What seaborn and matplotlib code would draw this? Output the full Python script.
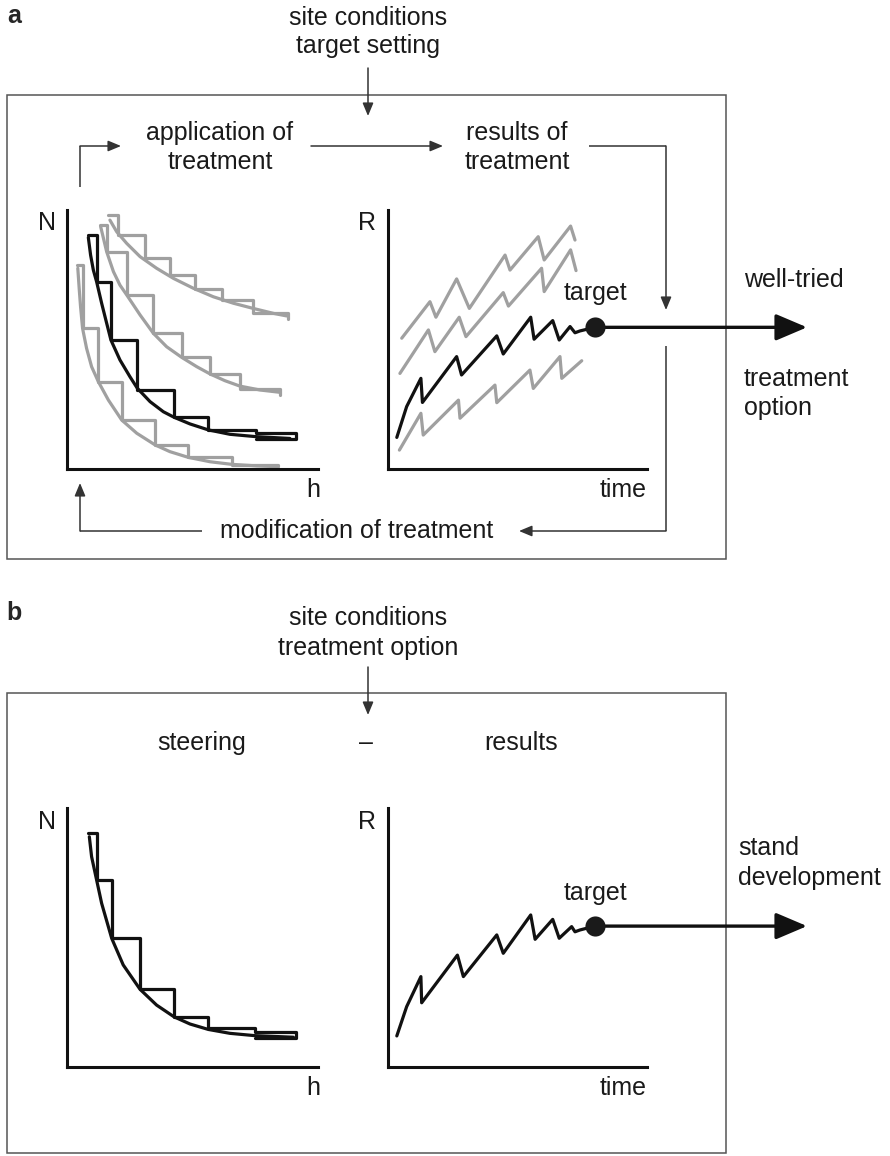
import matplotlib.pyplot as plt
import seaborn as sns
from matplotlib.patches import Rectangle
from matplotlib.transforms import blended_transform_factory

sns.set_theme(style="white")
plt.rcParams["font.family"] = ["Liberation Sans", "DejaVu Sans"]

GREY = "#a0a0a0"
INK = "#111111"
THIN = "#333333"

# ------------------- data (axis units 0..10) -------------------
# panel a, N over h : reverse-J curves with thinning steps
a_black_curve_h = [0.85, 0.94, 1.05, 1.18, 1.38, 1.58, 1.75, 2.11, 2.51, 2.8, 3.31, 3.84, 4.26, 4.9, 5.63, 6.49, 7.52, 8.88]
a_black_curve_n = [8.94, 8.26, 7.68, 7.23, 6.4, 5.63, 4.98, 4.21, 3.56, 3.12, 2.6, 2.21, 2.0, 1.74, 1.51, 1.34, 1.25, 1.18]
a_black_step_h = [0.85, 1.18, 1.75, 2.8, 4.26, 5.63, 7.52, 9.11, 9.11, 7.52]
a_black_step_n = [9.03, 7.23, 4.98, 3.05, 2.02, 1.51, 1.38, 1.38, 1.15, 1.15]

a_grey1_curve_h = [1.71, 1.98, 2.38, 2.91, 3.57, 4.24, 5.03, 5.83, 6.63, 7.42, 8.22, 8.75]
a_grey1_curve_n = [9.61, 9.16, 8.71, 8.2, 7.75, 7.36, 6.98, 6.65, 6.4, 6.2, 6.01, 5.91]
a_grey1_step_h = [1.65, 2.04, 3.11, 4.1, 5.1, 6.16, 7.4, 8.82, 8.82]
a_grey1_step_n = [9.81, 9.03, 8.13, 7.49, 6.94, 6.53, 6.03, 6.03, 5.78]

a_grey2_curve_h = [1.34, 1.58, 1.85, 2.11, 2.38, 2.91, 3.44, 3.97, 4.57, 5.17, 5.7, 6.29, 6.89, 7.69, 8.49]
a_grey2_curve_n = [9.36, 8.39, 7.62, 7.1, 6.72, 5.95, 5.24, 4.72, 4.31, 3.95, 3.67, 3.41, 3.2, 3.05, 2.96]
a_grey2_step_h = [1.31, 1.58, 2.38, 3.44, 4.57, 5.7, 6.89, 8.49, 8.49]
a_grey2_step_n = [9.42, 8.39, 6.72, 5.24, 4.31, 3.67, 3.1, 3.1, 2.86]

a_grey3_curve_h = [0.43, 0.49, 0.54, 0.62, 0.78, 0.98, 1.25, 1.65, 2.18, 2.78, 3.51, 4.1, 4.83, 5.7, 6.56, 7.56, 8.42]
a_grey3_curve_n = [7.75, 6.91, 6.27, 5.43, 4.66, 3.95, 3.37, 2.66, 1.89, 1.38, 0.93, 0.67, 0.45, 0.28, 0.18, 0.12, 0.09]
a_grey3_step_h = [0.39, 0.62, 1.25, 2.18, 3.51, 4.83, 6.56, 8.42]
a_grey3_step_n = [7.88, 5.43, 3.37, 1.89, 0.93, 0.48, 0.15, 0.12]

# panel a, R over time : saw-tooth stand development
a_black_t = [0.34, 0.72, 1.27, 1.33, 2.65, 2.84, 4.2, 4.45, 5.51, 5.64, 6.36, 6.61, 7.03, 7.22, 7.41, 7.99]
a_black_r = [1.22, 2.41, 3.5, 2.57, 4.34, 3.63, 5.14, 4.44, 5.86, 5.01, 5.73, 4.98, 5.5, 5.26, 5.33, 5.47]
a_grey1_t = [0.53, 1.62, 1.85, 2.65, 3.14, 4.52, 4.71, 5.8, 6.03, 7.05, 7.22]
a_grey1_r = [5.05, 6.46, 5.86, 7.34, 6.2, 8.26, 7.68, 8.97, 8.07, 9.38, 8.84]
a_grey2_t = [0.46, 1.56, 1.81, 2.75, 3.01, 4.45, 4.65, 5.93, 6.03, 7.05, 7.26]
a_grey2_r = [3.69, 5.37, 4.53, 5.86, 5.11, 6.81, 6.29, 7.75, 6.85, 8.46, 7.66]
a_grey3_t = [0.44, 1.27, 1.36, 2.72, 2.78, 4.13, 4.2, 5.48, 5.61, 6.64, 6.71, 7.48]
a_grey3_r = [0.73, 2.15, 1.31, 2.66, 1.96, 3.24, 2.56, 3.82, 3.11, 4.34, 3.5, 4.18]
a_target = (7.99, 5.47)

# panel b, N over h
b_curve_h = [0.89, 0.98, 1.18, 1.38, 1.78, 2.24, 2.91, 3.57, 4.26, 4.9, 5.63, 6.49, 7.49, 9.02]
b_curve_n = [8.89, 8.12, 7.22, 6.32, 4.97, 3.94, 3.0, 2.39, 1.94, 1.66, 1.45, 1.3, 1.21, 1.15]
b_step_h = [0.82, 1.18, 1.78, 2.91, 4.26, 5.63, 7.49, 9.11, 9.11, 7.49]
b_step_n = [9.02, 7.22, 4.97, 3.0, 1.94, 1.49, 1.34, 1.34, 1.11, 1.11]

# panel b, R over time
b_t = [0.34, 0.72, 1.27, 1.3, 2.68, 2.91, 4.2, 4.45, 5.51, 5.68, 6.36, 6.61, 7.09, 7.22, 7.41, 7.99]
b_r = [1.2, 2.33, 3.49, 2.48, 4.32, 3.49, 5.1, 4.39, 5.87, 4.93, 5.7, 4.97, 5.42, 5.22, 5.29, 5.44]
b_target = (7.99, 5.44)

# ------------------- canvas -------------------
W, H = 890, 1156
fig = plt.figure(figsize=(W / 100, H / 100), dpi=100)
bg = fig.add_axes([0, 0, 1, 1])
bg.set_xlim(0, W)
bg.set_ylim(H, 0)
bg.axis("off")


def inset(x0, x1, top, bottom):
    ax = fig.add_axes([x0 / W, 1 - bottom / H, (x1 - x0) / W, (bottom - top) / H])
    ax.set_xlim(0, 10)
    ax.set_ylim(0, 10)
    ax.set_facecolor("none")
    ax.set_xticks([])
    ax.set_yticks([])
    sns.despine(ax=ax)
    for s in ["left", "bottom"]:
        ax.spines[s].set_color(INK)
        ax.spines[s].set_linewidth(2.2)
    return ax


def line(ax, x, y, color, steps=False):
    kw = dict(drawstyle="steps-post") if steps else {}
    sns.lineplot(x=x, y=y, ax=ax, color=color, lw=2.3, sort=False,
                 estimator=None, legend=False, **kw)


def txt(x, y, s, ha="center", **kw):
    bg.text(x, y, s, ha=ha, va="center", fontsize=18, color="#1a1a1a", **kw)


def arrow(p0, p1, lw=1.1, color=THIN, style="-|>,head_length=0.6,head_width=0.25", ms=13):
    bg.annotate("", xy=p1, xytext=p0,
                arrowprops=dict(arrowstyle=style, lw=lw, color=color,
                                mutation_scale=ms, shrinkA=0, shrinkB=0))


def path(points):
    xs, ys = zip(*points)
    bg.plot(xs[:-1], ys[:-1], color=THIN, lw=1.1, solid_capstyle="butt")
    arrow(points[-2], points[-1])


def big_arrow(ax, target):
    tr = blended_transform_factory(bg.transData, ax.transData)
    ax.annotate("", xy=(807, target[1]), xycoords=tr, xytext=target, textcoords="data",
                annotation_clip=False,
                arrowprops=dict(arrowstyle="-|>,head_length=0.4,head_width=0.17",
                                lw=2.4, color=INK, mutation_scale=48,
                                shrinkA=0, shrinkB=0))
    sns.scatterplot(x=[target[0]], y=[target[1]], ax=ax, s=210, color="#1a1a1a",
                    linewidth=0, zorder=6, clip_on=False, legend=False)


# ------------------- panel a -------------------
bg.add_patch(Rectangle((7, 95), 719, 464, fill=False, ec="#555555", lw=1.1))
bg.text(14, 16, "a", ha="center", va="center", fontsize=18, fontweight="bold")
txt(368, 18, "site conditions")
txt(368, 46, "target setting")
arrow((368, 68), (368, 116))
txt(220, 133, "application of")
txt(220, 162, "treatment")
txt(517, 133, "results of")
txt(517, 162, "treatment")
path([(80, 187), (80, 146), (121, 146)])
arrow((311, 146), (443, 146))
path([(589, 146), (666, 146), (666, 310)])
path([(666, 346), (666, 531), (519, 531)])
txt(357, 531, "modification of treatment")
path([(202, 531), (80, 531), (80, 483)])
txt(744, 280, "well-tried", ha="left")
txt(744, 379, "treatment", ha="left")
txt(744, 408, "option", ha="left")

ax_nh = inset(67, 318, 210, 469)
for hx, ny, sx, sy in [(a_grey1_curve_h, a_grey1_curve_n, a_grey1_step_h, a_grey1_step_n),
                       (a_grey2_curve_h, a_grey2_curve_n, a_grey2_step_h, a_grey2_step_n),
                       (a_grey3_curve_h, a_grey3_curve_n, a_grey3_step_h, a_grey3_step_n)]:
    line(ax_nh, hx, ny, GREY)
    line(ax_nh, sx, sy, GREY, steps=True)
line(ax_nh, a_black_curve_h, a_black_curve_n, INK)
line(ax_nh, a_black_step_h, a_black_step_n, INK, steps=True)
txt(47, 223, "N")
txt(313, 490, "h")

ax_rt = inset(388, 647, 210, 469)
for t, r in [(a_grey1_t, a_grey1_r), (a_grey2_t, a_grey2_r), (a_grey3_t, a_grey3_r)]:
    line(ax_rt, t, r, GREY)
line(ax_rt, a_black_t, a_black_r, INK)
big_arrow(ax_rt, a_target)
txt(367, 223, "R")
txt(647, 490, "time", ha="right")
txt(595, 293, "target")

# ------------------- panel b -------------------
bg.add_patch(Rectangle((7, 693), 719, 460, fill=False, ec="#555555", lw=1.1))
bg.text(14, 613, "b", ha="center", va="center", fontsize=18, fontweight="bold")
txt(368, 618, "site conditions")
txt(368, 648, "treatment option")
arrow((368, 667), (368, 715))
txt(202, 743, "steering")
txt(366, 743, "\u2013")
txt(521, 743, "results")
txt(738, 848, "stand", ha="left")
txt(738, 878, "development", ha="left")

bx_nh = inset(67, 318, 808, 1067)
line(bx_nh, b_curve_h, b_curve_n, INK)
line(bx_nh, b_step_h, b_step_n, INK, steps=True)
txt(47, 822, "N")
txt(313, 1088, "h")

bx_rt = inset(388, 647, 808, 1067)
line(bx_rt, b_t, b_r, INK)
big_arrow(bx_rt, b_target)
txt(367, 822, "R")
txt(647, 1088, "time", ha="right")
txt(595, 893, "target")

fig.savefig("out.png", dpi=100)
